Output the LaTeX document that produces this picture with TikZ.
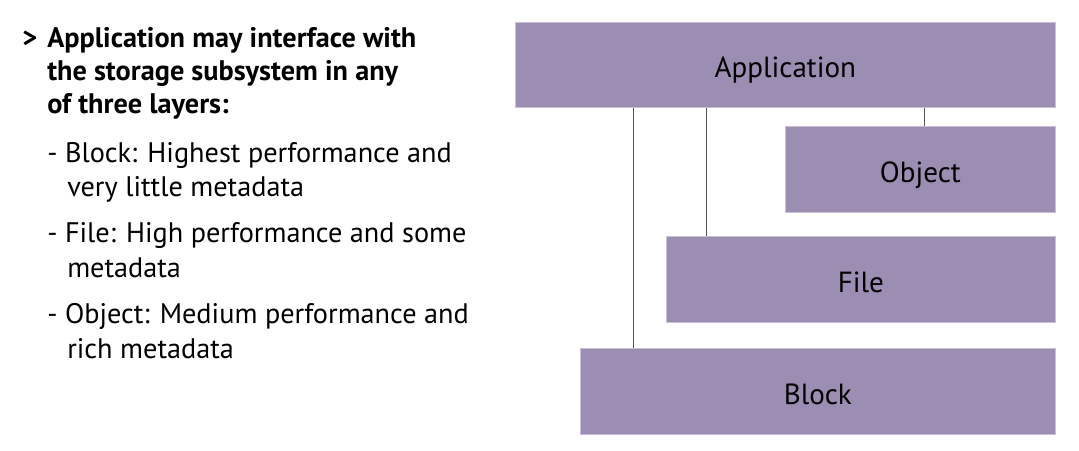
\documentclass[tikz,border=0pt]{standalone}
\usepackage{fontspec}
\setmainfont{PT Sans}
\usepackage{tikz}
\definecolor{layerfill}{HTML}{9C8DB3}
\definecolor{layeredge}{HTML}{C9C0D8}
\definecolor{wiregray}{HTML}{555555}

\begin{document}
\begin{tikzpicture}[x=0.025cm, y=-0.025cm,
	layer/.style={shape=rectangle, fill=layerfill, draw=layeredge, line width=0.4pt, anchor=north west, inner sep=0, minimum height=2.15cm, text height=18.5pt, text depth=0pt, font=\fontsize{20.7}{24}\selectfont},
	wire/.style={draw=wiregray, line width=0.7pt},
	bullet/.style={anchor=base west, inner sep=0, font=\fontsize{20.1}{24}\selectfont},
	head/.style={anchor=base west, inner sep=0, font=\fontsize{20.1}{24}\selectfont\bfseries}]
	\useasboundingbox (0, 0) rectangle (1079, 450);
	% Text on the left:
	\node[head] (arrow) at (22, 47) {>};
	\node[head] (t1) at (47, 47) {Application may interface with};
	\node[head] (t2) at (47, 80) {the storage subsystem in any};
	\node[head] (t3) at (47, 113) {of three layers:};
	\node[bullet] (b1) at (47, 162) {- Block: Highest performance and};
	\node[bullet] (b2) at (67, 196) {very little metadata};
	\node[bullet] (f1) at (47, 242) {- File: High performance and some};
	\node[bullet] (f2) at (67, 277) {metadata};
	\node[bullet] (o1) at (47, 323) {- Object: Medium performance and};
	\node[bullet] (o2) at (67, 358) {rich metadata};
	% Layer boxes:
	\node[layer, minimum width=13.5cm, minimum height=2.125cm] (app) at (515, 22) {Application};
	\node[layer, minimum width=6.75cm] (obj) at (785, 126) {Object};
	\node[layer, minimum width=9.725cm] (fil) at (666, 236) {File};
	\node[layer, minimum width=11.875cm] (blk) at (580, 348) {Block};
	% Connectors:
	\coordinate (blkx) at (633, 0);
	\coordinate (filx) at (706, 0);
	\coordinate (objx) at (924, 0);
	\draw[wire] (app.south -| blkx) -- (blk.north -| blkx);
	\draw[wire] (app.south -| filx) -- (fil.north -| filx);
	\draw[wire] (app.south -| objx) -- (obj.north -| objx);
\end{tikzpicture}
\end{document}
